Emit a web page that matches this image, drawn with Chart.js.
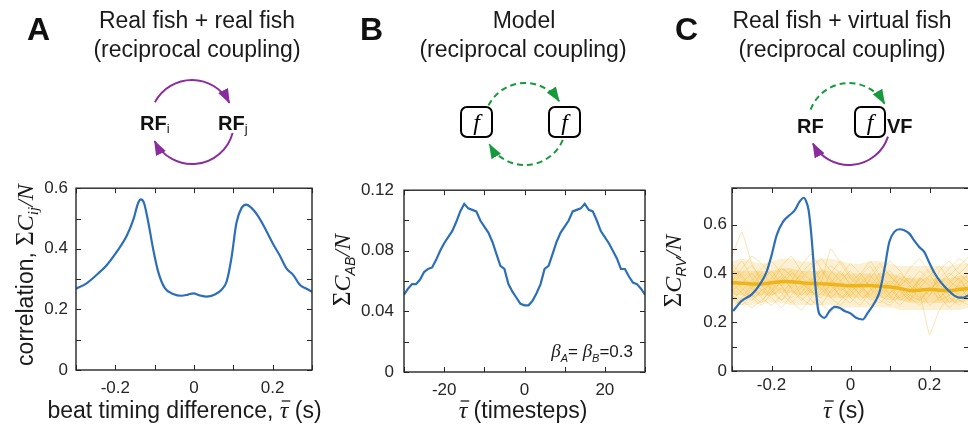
<!DOCTYPE html>
<html>
<head>
<meta charset="utf-8">
<script src="https://cdn.jsdelivr.net/npm/chart.js@4"></script>
<style>
body { margin: 0; background: #fff; overflow: hidden; }
#figura { position: relative; width: 968px; height: 428px; overflow: hidden; }
#figura canvas { position: absolute; }
#textos { position: absolute; left: 0; top: 0; }
</style>
</head>
<body>
<div id="figura">
  <canvas id="graficoA" width="330" height="258" style="left:0px;top:170px"></canvas>
  <canvas id="graficoB" width="330" height="258" style="left:330px;top:170px"></canvas>
  <canvas id="graficoC" width="330" height="258" style="left:650px;top:170px"></canvas>

  <svg id="textos" width="968" height="428" font-family="'Liberation Sans', Arial, sans-serif">
    <defs>
      <marker id="pontaRoxa" viewBox="0 0 15 11" refX="14" refY="5.5" markerWidth="15" markerHeight="11" markerUnits="userSpaceOnUse" orient="auto">
        <path d="M0,0 L15,5.5 L0,11 z" fill="#8a2c9e"></path>
      </marker>
      <marker id="pontaVerde" viewBox="0 0 15 11" refX="14" refY="5.5" markerWidth="15" markerHeight="11" markerUnits="userSpaceOnUse" orient="auto">
        <path d="M0,0 L15,5.5 L0,11 z" fill="#169b3c"></path>
      </marker>
    </defs>

    <!-- letras dos paineis -->
    <g font-size="32" font-weight="bold" fill="#111">
      <text x="27" y="40">A</text>
      <text x="360" y="40">B</text>
      <text x="675" y="40">C</text>
    </g>

    <!-- titulos -->
    <g font-size="23" text-anchor="middle" fill="#1a1a1a">
      <text x="197" y="28">Real fish + real fish</text>
      <text x="197" y="57">(reciprocal coupling)</text>
      <text x="524" y="28">Model</text>
      <text x="523" y="57">(reciprocal coupling)</text>
      <text x="842" y="28">Real fish + virtual fish</text>
      <text x="842" y="57">(reciprocal coupling)</text>
    </g>

    <!-- diagrama A -->
    <path d="M154.9,102.3 A42,42 0 0 1 229.4,102.9" fill="none" stroke="#8a2c9e" stroke-width="2" marker-end="url(#pontaRoxa)"></path>
    <path d="M232.6,132.9 A42,42 0 0 1 154.6,141.1" fill="none" stroke="#8a2c9e" stroke-width="2" marker-end="url(#pontaRoxa)"></path>
    <text x="140" y="130" font-size="20" font-weight="bold" fill="#111">RF<tspan font-weight="normal" font-size="13" dy="3">i</tspan></text>
    <text x="218" y="130" font-size="20" font-weight="bold" fill="#111">RF<tspan font-weight="normal" font-size="13" dy="3">j</tspan></text>

    <!-- diagrama B -->
    <path d="M488.5,105.4 A41,41 0 0 1 559.1,101.2" fill="none" stroke="#169b3c" stroke-width="2" stroke-dasharray="6 4" marker-end="url(#pontaVerde)"></path>
    <path d="M562.8,139.9 A41,41 0 0 1 489.4,144.3" fill="none" stroke="#169b3c" stroke-width="2" stroke-dasharray="6 4" marker-end="url(#pontaVerde)"></path>
    <rect x="461" y="107" width="31" height="30" rx="6" fill="#fff" stroke="#000" stroke-width="2"></rect>
    <rect x="549" y="107" width="31" height="30" rx="6" fill="#fff" stroke="#000" stroke-width="2"></rect>
    <g font-family="'Liberation Serif', serif" font-style="italic" font-size="24" text-anchor="middle">
      <text x="476.5" y="130">f</text>
      <text x="564.5" y="130">f</text>
    </g>

    <!-- diagrama C -->
    <path d="M810.6,109.6 A41,41 0 0 1 884.5,103.6" fill="none" stroke="#169b3c" stroke-width="2" stroke-dasharray="6 4" marker-end="url(#pontaVerde)"></path>
    <path d="M888,136.6 A41,41 0 0 1 812.9,143.5" fill="none" stroke="#8a2c9e" stroke-width="2" marker-end="url(#pontaRoxa)"></path>
    <rect x="855" y="107" width="30" height="30" rx="6" fill="#fff" stroke="#000" stroke-width="2"></rect>
    <text x="870" y="130" font-family="'Liberation Serif', serif" font-style="italic" font-size="24" text-anchor="middle">f</text>
    <text x="797" y="133" font-size="20" font-weight="bold" fill="#111">RF</text>
    <text x="887" y="133" font-size="20" font-weight="bold" fill="#111">VF</text>

    <!-- titulos dos eixos -->
    <g id="titulosEixos" fill="#1a1a1a">
      <text transform="translate(33,275) rotate(-90)" text-anchor="middle" font-size="23">correlation, <tspan font-family="'Liberation Serif', serif" font-size="25">Σ</tspan><tspan font-family="'Liberation Serif', serif" font-style="italic" font-size="24">C</tspan><tspan font-family="'Liberation Serif', serif" font-style="italic" font-size="15" dy="5">ij</tspan><tspan font-family="'Liberation Serif', serif" font-style="italic" font-size="24" dy="-5">/N</tspan></text>
      <text transform="translate(350,270) rotate(-90)" text-anchor="middle"><tspan font-family="'Liberation Serif', serif" font-size="25">Σ</tspan><tspan font-family="'Liberation Serif', serif" font-style="italic" font-size="24">C</tspan><tspan font-style="italic" font-size="14" dy="5">AB</tspan><tspan font-family="'Liberation Serif', serif" font-style="italic" font-size="24" dy="-5">/N</tspan></text>
      <text transform="translate(681,271) rotate(-90)" text-anchor="middle"><tspan font-family="'Liberation Serif', serif" font-size="25">Σ</tspan><tspan font-family="'Liberation Serif', serif" font-style="italic" font-size="24">C</tspan><tspan font-style="italic" font-size="14" dy="5">RV</tspan><tspan font-family="'Liberation Serif', serif" font-style="italic" font-size="24" dy="-5">/N</tspan></text>

      <text class="comTau" x="184.5" y="418" text-anchor="middle" font-size="23">beat timing difference, <tspan font-family="'Liberation Serif', serif" font-style="italic" font-size="24">τ</tspan> (s)</text>
      <text class="comTau" x="523" y="418" text-anchor="middle" font-size="23"><tspan font-family="'Liberation Serif', serif" font-style="italic" font-size="24">τ</tspan> (timesteps)</text>
      <text class="comTau" x="844" y="418" text-anchor="middle" font-size="23"><tspan font-family="'Liberation Serif', serif" font-style="italic" font-size="24">τ</tspan> (s)</text>

      <text x="633" y="357" text-anchor="end" font-size="17"><tspan font-family="'Liberation Serif', serif" font-style="italic" font-size="19">β</tspan><tspan font-style="italic" font-size="11" dy="5">A</tspan><tspan dy="-5">= </tspan><tspan font-family="'Liberation Serif', serif" font-style="italic" font-size="19">β</tspan><tspan font-style="italic" font-size="11" dy="5">B</tspan><tspan dy="-5">=0.3</tspan></text>
    </g>
  </svg>
</div>

<script>
// painel A: correlacao entre peixes reais
const tauA = [-0.3, -0.273, -0.239, -0.222, -0.197, -0.171, -0.154, -0.142, -0.135, -0.127, -0.116, -0.104, -0.091, -0.074, -0.053, -0.032, -0.015, -0.002, 0.015, 0.032, 0.053, 0.070, 0.083, 0.095, 0.108, 0.121, 0.133, 0.146, 0.163, 0.184, 0.201, 0.218, 0.235, 0.252, 0.269, 0.286, 0.3];
const corrA = [0.268, 0.286, 0.324, 0.346, 0.389, 0.443, 0.497, 0.551, 0.563, 0.551, 0.486, 0.400, 0.324, 0.270, 0.251, 0.245, 0.249, 0.253, 0.246, 0.242, 0.249, 0.265, 0.292, 0.368, 0.486, 0.535, 0.546, 0.535, 0.508, 0.459, 0.416, 0.378, 0.335, 0.314, 0.281, 0.268, 0.258];
const rotulosXA = [-0.2, 0, 0.2];
const rotulosYA = [0, 0.2, 0.4, 0.6];

// painel B: modelo (timesteps inteiros)
const tauB = [-30, -29, -28, -27, -26, -25, -24, -23, -22, -21, -20, -19, -18, -17, -16, -15, -14, -13, -12, -11, -10, -9, -8, -7, -6, -5, -4, -3, -2, -1, 0, 1, 2, 3, 4, 5, 6, 7, 8, 9, 10, 11, 12, 13, 14, 15, 16, 17, 18, 19, 20, 21, 22, 23, 24, 25, 26, 27, 28, 29, 30];
const corrB = [0.051, 0.055, 0.058, 0.058, 0.061, 0.066, 0.068, 0.069, 0.074, 0.080, 0.085, 0.089, 0.093, 0.099, 0.106, 0.111, 0.108, 0.107, 0.106, 0.100, 0.096, 0.092, 0.086, 0.078, 0.070, 0.068, 0.058, 0.053, 0.049, 0.045, 0.044, 0.044, 0.047, 0.052, 0.058, 0.068, 0.070, 0.078, 0.086, 0.092, 0.096, 0.100, 0.106, 0.107, 0.108, 0.111, 0.107, 0.106, 0.100, 0.093, 0.089, 0.085, 0.080, 0.075, 0.068, 0.068, 0.063, 0.059, 0.058, 0.055, 0.051];
const rotulosXB = [-20, 0, 20];
const rotulosYB = [0, 0.04, 0.08, 0.12];

// painel C: peixe real + peixe virtual
const tauC = [-0.297, -0.276, -0.250, -0.229, -0.213, -0.200, -0.187, -0.171, -0.154, -0.141, -0.129, -0.118, -0.112, -0.106, -0.099, -0.091, -0.082, -0.074, -0.066, -0.053, -0.040, -0.028, -0.015, 0, 0.014, 0.031, 0.044, 0.061, 0.073, 0.086, 0.098, 0.111, 0.124, 0.136, 0.149, 0.161, 0.174, 0.187, 0.199, 0.212, 0.229, 0.245, 0.262, 0.275, 0.287, 0.3];
const corrC = [0.246, 0.287, 0.314, 0.356, 0.404, 0.473, 0.556, 0.611, 0.639, 0.659, 0.694, 0.710, 0.694, 0.659, 0.556, 0.390, 0.252, 0.225, 0.218, 0.246, 0.263, 0.259, 0.246, 0.236, 0.218, 0.211, 0.239, 0.280, 0.321, 0.418, 0.528, 0.570, 0.581, 0.577, 0.563, 0.535, 0.508, 0.487, 0.446, 0.404, 0.363, 0.335, 0.310, 0.301, 0.301, 0.312];
const tauVirtual = [-0.3, -0.275, -0.25, -0.225, -0.2, -0.175, -0.15, -0.125, -0.1, -0.075, -0.05, -0.025, 0, 0.025, 0.05, 0.075, 0.1, 0.125, 0.15, 0.175, 0.2, 0.225, 0.25, 0.275, 0.3];
const mediaVirtual = [0.362, 0.360, 0.357, 0.357, 0.362, 0.366, 0.366, 0.362, 0.359, 0.358, 0.356, 0.352, 0.349, 0.350, 0.350, 0.347, 0.344, 0.338, 0.330, 0.331, 0.335, 0.331, 0.329, 0.334, 0.338];
const faixaExternaSup = [0.45, 0.46, 0.45, 0.44, 0.45, 0.46, 0.46, 0.45, 0.45, 0.46, 0.46, 0.45, 0.44, 0.44, 0.45, 0.45, 0.44, 0.43, 0.43, 0.43, 0.43, 0.43, 0.43, 0.44, 0.44];
const faixaExternaInf = [0.28, 0.27, 0.27, 0.28, 0.28, 0.28, 0.27, 0.27, 0.27, 0.27, 0.27, 0.26, 0.26, 0.26, 0.26, 0.26, 0.26, 0.25, 0.25, 0.25, 0.25, 0.25, 0.25, 0.25, 0.26];
const faixaInternaSup = [0.41, 0.41, 0.41, 0.41, 0.41, 0.42, 0.42, 0.41, 0.41, 0.41, 0.41, 0.40, 0.40, 0.40, 0.40, 0.40, 0.40, 0.39, 0.38, 0.38, 0.38, 0.38, 0.38, 0.39, 0.39];
const faixaInternaInf = [0.31, 0.31, 0.30, 0.31, 0.31, 0.32, 0.32, 0.31, 0.31, 0.31, 0.30, 0.30, 0.30, 0.30, 0.30, 0.30, 0.29, 0.29, 0.28, 0.28, 0.28, 0.28, 0.28, 0.28, 0.29];
const virtuais = [
    [0.40, 0.45, 0.38, 0.33, 0.36, 0.42, 0.39, 0.31, 0.35, 0.41, 0.37, 0.30, 0.34, 0.39, 0.43, 0.36, 0.32, 0.38, 0.35, 0.29, 0.33, 0.37, 0.31, 0.36, 0.40],
    [0.31, 0.28, 0.34, 0.39, 0.33, 0.29, 0.35, 0.40, 0.44, 0.37, 0.32, 0.36, 0.30, 0.27, 0.33, 0.38, 0.41, 0.35, 0.31, 0.36, 0.39, 0.34, 0.28, 0.32, 0.35],
    [0.47, 0.57, 0.44, 0.37, 0.41, 0.35, 0.30, 0.34, 0.38, 0.33, 0.40, 0.45, 0.39, 0.35, 0.31, 0.37, 0.34, 0.29, 0.32, 0.38, 0.42, 0.36, 0.39, 0.43, 0.47],
    [0.36, 0.32, 0.29, 0.33, 0.30, 0.26, 0.31, 0.35, 0.29, 0.27, 0.33, 0.37, 0.41, 0.36, 0.30, 0.28, 0.32, 0.35, 0.38, 0.33, 0.27, 0.30, 0.34, 0.31, 0.29],
    [0.29, 0.33, 0.37, 0.42, 0.45, 0.40, 0.36, 0.39, 0.33, 0.30, 0.36, 0.41, 0.35, 0.32, 0.38, 0.43, 0.39, 0.34, 0.30, 0.27, 0.31, 0.36, 0.40, 0.37, 0.33],
    [0.42, 0.38, 0.34, 0.30, 0.27, 0.31, 0.37, 0.43, 0.48, 0.42, 0.35, 0.31, 0.28, 0.33, 0.37, 0.31, 0.35, 0.40, 0.36, 0.32, 0.15, 0.25, 0.30, 0.27, 0.31],
    [0.33, 0.36, 0.40, 0.35, 0.31, 0.34, 0.29, 0.25, 0.30, 0.36, 0.50, 0.44, 0.38, 0.34, 0.29, 0.32, 0.37, 0.33, 0.29, 0.34, 0.39, 0.43, 0.37, 0.34, 0.37],
    [0.38, 0.34, 0.30, 0.27, 0.32, 0.37, 0.41, 0.36, 0.33, 0.28, 0.24, 0.29, 0.33, 0.38, 0.35, 0.40, 0.45, 0.41, 0.36, 0.41, 0.37, 0.31, 0.26, 0.30, 0.34],
    [0.26, 0.30, 0.35, 0.31, 0.38, 0.43, 0.47, 0.41, 0.37, 0.42, 0.38, 0.33, 0.36, 0.40, 0.34, 0.29, 0.27, 0.31, 0.35, 0.30, 0.33, 0.38, 0.42, 0.46, 0.43],
    [0.35, 0.40, 0.43, 0.38, 0.34, 0.29, 0.33, 0.30, 0.27, 0.32, 0.35, 0.39, 0.44, 0.40, 0.45, 0.39, 0.35, 0.30, 0.33, 0.37, 0.41, 0.35, 0.33, 0.29, 0.27],
    [0.44, 0.39, 0.35, 0.40, 0.36, 0.32, 0.28, 0.32, 0.37, 0.34, 0.30, 0.34, 0.31, 0.35, 0.39, 0.34, 0.30, 0.36, 0.42, 0.46, 0.40, 0.33, 0.36, 0.40, 0.36],
    [0.30, 0.27, 0.31, 0.28, 0.35, 0.39, 0.34, 0.38, 0.42, 0.46, 0.41, 0.37, 0.33, 0.29, 0.33, 0.36, 0.31, 0.27, 0.31, 0.29, 0.34, 0.30, 0.34, 0.38, 0.32],
    [0.37, 0.42, 0.47, 0.44, 0.39, 0.35, 0.40, 0.37, 0.32, 0.36, 0.30, 0.27, 0.32, 0.36, 0.40, 0.44, 0.39, 0.35, 0.39, 0.35, 0.31, 0.41, 0.45, 0.40, 0.44],
    [0.33, 0.29, 0.26, 0.29, 0.33, 0.38, 0.34, 0.29, 0.33, 0.39, 0.43, 0.40, 0.36, 0.31, 0.27, 0.31, 0.28, 0.33, 0.29, 0.38, 0.35, 0.29, 0.31, 0.35, 0.29]
];
const rotulosXC = [-0.2, 0, 0.2];
const rotulosYC = [0, 0.2, 0.4, 0.6];

const azul = '#2c6fb8';
const corTexto = '#262626';
const fonteTicks = "'Liberation Sans Narrow', 'Liberation Sans', Arial, sans-serif";

function montarPontos(xs, ys) {
    return xs.map((x, i) => ({ x: x, y: ys[i] }));
}

function formatar(valor) {
    return String(parseFloat(Number(valor).toFixed(3)));
}

function temRotulo(valor, lista) {
    return lista.some(r => Math.abs(r - valor) < 1e-6);
}

// caixa com ticks para dentro nos quatro lados
const molduraPlugin = {
    id: 'moldura',
    afterDraw(chart) {
        const ctx = chart.ctx;
        const area = chart.chartArea;
        const escX = chart.scales.x;
        const escY = chart.scales.y;
        const tam = 5;

        ctx.save();
        ctx.strokeStyle = corTexto;
        ctx.lineWidth = 1;
        ctx.beginPath();
        escX.ticks.forEach(t => {
            const px = Math.round(escX.getPixelForValue(t.value)) + 0.5;
            ctx.moveTo(px, area.bottom);
            ctx.lineTo(px, area.bottom - tam);
            ctx.moveTo(px, area.top);
            ctx.lineTo(px, area.top + tam);
        });
        escY.ticks.forEach(t => {
            const py = Math.round(escY.getPixelForValue(t.value)) + 0.5;
            ctx.moveTo(area.left, py);
            ctx.lineTo(area.left + tam, py);
            ctx.moveTo(area.right, py);
            ctx.lineTo(area.right - tam, py);
        });
        ctx.stroke();

        ctx.lineWidth = 1.4;
        ctx.strokeRect(area.left, area.top, area.right - area.left, area.bottom - area.top);
        ctx.restore();
    }
};

function opcoesEixos(cfg) {
    return {
        responsive: false,
        animation: false,
        devicePixelRatio: 1,
        layout: { padding: { top: cfg.topo, right: cfg.direita, left: 0, bottom: 0 } },
        plugins: { legend: { display: false }, tooltip: { enabled: false } },
        elements: { point: { radius: 0 } },
        scales: {
            x: {
                type: 'linear',
                min: cfg.xMin,
                max: cfg.xMax,
                grid: { display: false, drawTicks: false },
                border: { display: false },
                afterFit: (escala) => { escala.height = cfg.alturaX; },
                ticks: {
                    stepSize: cfg.passoX,
                    autoSkip: false,
                    maxRotation: 0,
                    minRotation: 0,
                    padding: cfg.padX,
                    color: corTexto,
                    font: { family: fonteTicks, size: 17 },
                    callback: (v) => temRotulo(v, cfg.rotulosX) ? formatar(v) : ''
                }
            },
            y: {
                type: 'linear',
                min: cfg.yMin,
                max: cfg.yMax,
                grid: { display: false, drawTicks: false },
                border: { display: false },
                afterFit: (escala) => { escala.width = cfg.larguraY; },
                ticks: {
                    stepSize: cfg.passoY,
                    autoSkip: false,
                    padding: cfg.padY,
                    color: corTexto,
                    font: { family: fonteTicks, size: 17 },
                    callback: (v) => temRotulo(v, cfg.rotulosY) ? formatar(v) : ''
                }
            }
        }
    };
}

function renderPainelA() {
    new Chart(document.getElementById('graficoA'), {
        type: 'line',
        data: {
            datasets: [{
                data: montarPontos(tauA, corrA),
                borderColor: azul,
                borderWidth: 2.2,
                cubicInterpolationMode: 'monotone',
                fill: false
            }]
        },
        options: opcoesEixos({
            topo: 15, direita: 18, alturaX: 58, larguraY: 76,
            xMin: -0.3, xMax: 0.3, passoX: 0.1, rotulosX: rotulosXA, padX: 8,
            yMin: 0, yMax: 0.6, passoY: 0.1, rotulosY: rotulosYA, padY: 8
        }),
        plugins: [molduraPlugin]
    });
}

function renderPainelB() {
    new Chart(document.getElementById('graficoB'), {
        type: 'line',
        data: {
            datasets: [{
                data: montarPontos(tauB, corrB),
                borderColor: azul,
                borderWidth: 2.2,
                tension: 0,
                fill: false
            }]
        },
        options: opcoesEixos({
            topo: 17, direita: 15, alturaX: 56, larguraY: 74,
            xMin: -30, xMax: 30, passoX: 10, rotulosX: rotulosXB, padX: 8,
            yMin: 0, yMax: 0.12, passoY: 0.02, rotulosY: rotulosYB, padY: 10
        }),
        plugins: [molduraPlugin]
    });
}

function renderPainelC() {
    const conjuntos = [];

    conjuntos.push({
        data: montarPontos(tauC, corrC),
        borderColor: azul,
        borderWidth: 2.2,
        cubicInterpolationMode: 'monotone',
        fill: false,
        order: 0
    });
    conjuntos.push({
        data: montarPontos(tauVirtual, mediaVirtual),
        borderColor: '#efb41a',
        borderWidth: 3.5,
        tension: 0.3,
        fill: false,
        order: 1
    });
    for (let i = 0; i < virtuais.length; i++) {
        conjuntos.push({
            data: montarPontos(tauVirtual, virtuais[i]),
            borderColor: 'rgba(240, 180, 40, 0.36)',
            borderWidth: 1,
            tension: 0.1,
            fill: false,
            order: 2
        });
    }
    // faixas de densidade das curvas virtuais
    conjuntos.push({
        data: montarPontos(tauVirtual, faixaExternaSup),
        borderWidth: 0,
        borderColor: 'rgba(0,0,0,0)',
        backgroundColor: 'rgba(240, 180, 40, 0.2)',
        fill: { target: conjuntos.length + 1 },
        tension: 0.2,
        order: 3
    });
    conjuntos.push({
        data: montarPontos(tauVirtual, faixaExternaInf),
        borderWidth: 0,
        borderColor: 'rgba(0,0,0,0)',
        fill: false,
        tension: 0.2,
        order: 3
    });
    conjuntos.push({
        data: montarPontos(tauVirtual, faixaInternaSup),
        borderWidth: 0,
        borderColor: 'rgba(0,0,0,0)',
        backgroundColor: 'rgba(240, 180, 40, 0.27)',
        fill: { target: conjuntos.length + 1 },
        tension: 0.2,
        order: 3
    });
    conjuntos.push({
        data: montarPontos(tauVirtual, faixaInternaInf),
        borderWidth: 0,
        borderColor: 'rgba(0,0,0,0)',
        fill: false,
        tension: 0.2,
        order: 3
    });

    new Chart(document.getElementById('graficoC'), {
        type: 'line',
        data: { datasets: conjuntos },
        options: opcoesEixos({
            topo: 18, direita: 11, alturaX: 57, larguraY: 82,
            xMin: -0.3, xMax: 0.3, passoX: 0.1, rotulosX: rotulosXC, padX: 4,
            yMin: 0, yMax: 0.75, passoY: 0.1, rotulosY: rotulosYC, padY: 5
        }),
        plugins: [molduraPlugin]
    });
}

// barra sobre o tau (media temporal)
function desenharBarrasTau() {
    const grupo = document.getElementById('titulosEixos');
    document.querySelectorAll('text.comTau').forEach(texto => {
        const indice = texto.textContent.indexOf('τ');
        const caixa = texto.getExtentOfChar(indice);
        const base = parseFloat(texto.getAttribute('y'));
        const linha = document.createElementNS('http://www.w3.org/2000/svg', 'line');
        linha.setAttribute('x1', caixa.x + 2);
        linha.setAttribute('x2', caixa.x + caixa.width + 2);
        linha.setAttribute('y1', base - 17);
        linha.setAttribute('y2', base - 17);
        linha.setAttribute('stroke', '#1a1a1a');
        linha.setAttribute('stroke-width', 1.3);
        grupo.appendChild(linha);
    });
}

renderPainelA();
renderPainelB();
renderPainelC();
desenharBarrasTau();
</script>
</body>
</html>
